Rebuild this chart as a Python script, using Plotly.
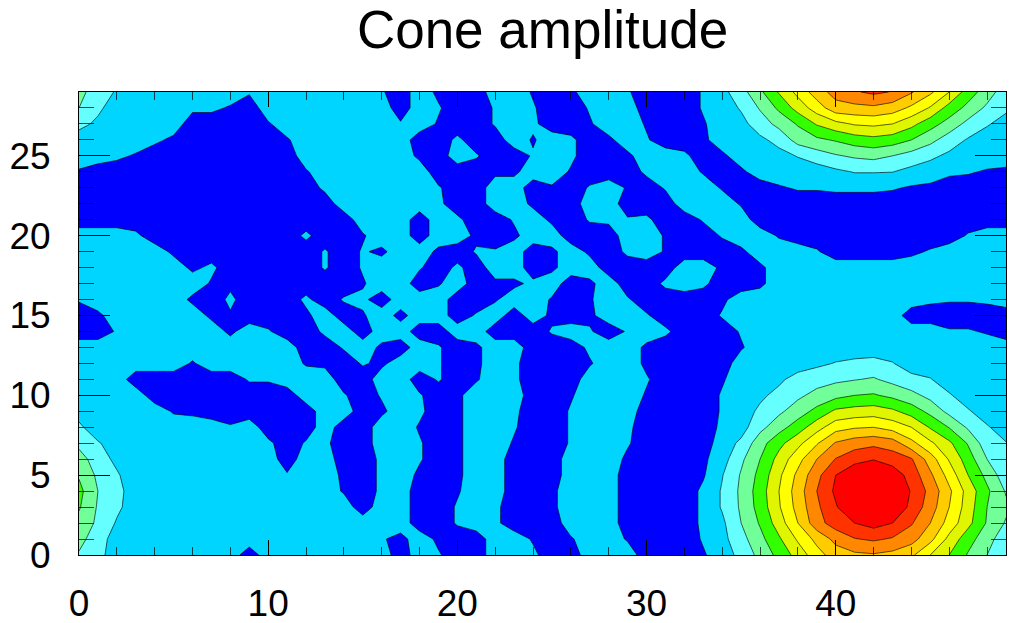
import plotly.graph_objects as go

TITLE = "Cone amplitude"
X_VALUES = list(range(50))
Y_VALUES = list(range(30))
LEVEL_COLORS = ["#0000ff", "#00d5ff", "#66ffff", "#70ff99", "#33ff00", "#e0f500",
                "#ffff00", "#ffcc00", "#ff8800", "#ff3300", "#ff0000"]

# Field, in tenths of a contour interval.
# Background rows, top (y=29) to bottom (y=0), ten columns per group.
SYMBOLS = {"#": -5, "~": -3, "=": -2, "-": -1, ",": 1, "+": 2, ".": 5}
BACKGROUND_ROWS = [
    ".........,  ......,#.= ##..-#=.., ###,...... ..........",
    "......++-# .......#., ##,.,##,.. ###,...... ..........",
    "......#### -......,.- ##,.+##-.. -##-...... ..........",
    "....+=#### #-......## +##.-.+#=. ,##=...... ..........",
    "..+-###### ##......=# .,##,.+##= ..+#=..... ..........",
    "-######### ##-......# ##==..-### +..-#=.... ......+,-=",
    "########## ###+....., ##..#-#,.- #,..-##-,, +++,-=####",
    "########## ####.....+ ##..=##..# ##...-#### ##########",
    "########## #####...#. +##,.=#,+, +##,..#### ##########",
    "...+###### ##+##-..#. .=#=..###. .-##,..-## #######,..",
    ".....=#### ###,#,=..= #,,.#=.=#+ .-###=..., ####=,....",
    "......=+## ###,#,..,# +#..#=..## ##..=#=... ..........",
    ".......-=# #####-..#- .#==+.#=.# #+.+##=... ..........",
    ",.....=#+# ##+#,+#... ##-..-#-., ####=..... .....+,,+.",
    "#=.....=-# ##=.#-.~.. #,.#.=#=.. ,###,..... ....######",
    "##,.....=. ,##+.#..## ..###,.,#, .+###,.... ......,,-#",
    ".......... ..##,.=#., #=..###+.. =####-.... ..........",
    "......-... ..-=#,=.., #=.+###-.. =####..... ..........",
    "...######, ,...##..#, #-.+###... ,###-..... ..........",
    "....###### ##..,#,.,# =...##-... -###,..... ..........",
    ".....-=### ###..#=.+# =..+##,... ####,..... ..........",
    "........,. ###.##..-# =..,##,..+ ####+..... ..........",
    ".......... +#,+##..,# =..-##,.., ####...... ..........",
    ".......... .#..##+.,# =..###...= ###=...... ..........",
    ".......... .,..=#+.=# =..###...# ###-...... ..........",
    ".......... ....-#+.## -..##=...# ###+...... ..........",
    ".......... .....#..## ,.+##=...# ###+...... ..........",
    ".......... ........## ,.+###...# ###+...... ..........",
    ".......... ......,~.= ##..-#-..- ###,...... ..........",
    ".........# .......#., ##..+##... ###-...... ..........",
]

# Upper-right peak, columns x=34..49; 0 keeps the background value.
TOP_PEAK = {
    29: [7, 16, 28, 41, 53, 65, 74, 79, 82, 79.5, 71, 62, 50, 35, 25, 14],
    28: [0, 11, 21, 32, 44, 55, 66, 67, 68, 65, 58, 49, 36, 27, 18, 12],
    27: [0, 7, 15, 23, 31, 41, 47, 51, 52, 50, 43, 34, 26, 17, 11, 6],
    26: [0, 0, 8, 13, 24, 28, 31, 35, 37, 35, 30, 23, 15, 9, 0, 0],
    25: [0, 0, 0, 7, 10.5, 15, 19, 21.5, 23, 20, 16, 12, 8, 0, 0, 0],
    24: [0, 0, 0, 0, 0, 0, 8, 10.5, 10.5, 10.2, 7, 0, 0, 0, 0, 0],
}
# Lower-right peak, columns x=34..49.
BOTTOM_PEAK = {
    12: [0, 0, 0, 0, 0, 8, 10.5, 12, 13, 10.5, 0, 0, 0, 0, 0, 0],
    11: [0, 0, 0, 8, 14, 16, 18, 19.5, 21, 17, 13, 10.5, 0, 0, 0, 0],
    10: [0, 0, 8, 13, 18, 23, 27, 30, 31, 27.5, 23, 17, 11, 0, 0, 0],
    9: [0, 0, 12, 18, 25, 33, 42, 44, 45, 42, 35.5, 27, 17, 11, 0, 0],
    8: [0, 6, 17, 26, 35, 46, 56, 59, 60, 56, 50, 39, 29.5, 18.5, 11, 0],
    7: [0, 12, 26, 37, 47, 59, 71, 75.5, 77.5, 75, 63, 52, 42, 29, 14, 10.5],
    6: [6, 18, 30, 43.5, 56.5, 70, 80.5, 86.5, 89.5, 85.5, 81, 65, 49, 35, 20, 13],
    5: [9.5, 21, 33, 48, 62.5, 77, 90, 98, 101, 96, 86, 72, 56, 40, 27, 14],
    4: [11, 22, 35, 50, 65, 80, 92, 102, 105, 102, 89, 77, 62, 46, 32, 19],
    3: [11, 21.5, 34, 49, 63.5, 78, 89, 100, 103, 100, 87, 75, 60, 45, 30, 22],
    2: [8, 20, 31, 45, 60, 76, 85, 90, 94, 90, 81, 70, 56, 43, 29, 19],
    1: [7, 16.5, 27, 38.5, 51.5, 63, 73, 79.5, 81.5, 79, 74, 63, 47, 34, 24, 13.5],
    0: [0, 13, 23, 33, 44, 56, 65, 68, 69, 67, 62, 50, 40, 29, 20, 11],
}
# Left edge, columns x=0..2.
LEFT_EDGE = {
    29: [23, 15, 9],
    28: [20, 12, 5],
    27: [13, 8, 5],
    9: [6, 5, 5],
    8: [12, 4, 5],
    7: [17, 11, 5],
    6: [25, 14, 8],
    5: [29, 18, 11],
    4: [33, 20, 13],
    3: [31, 19, 12],
    2: [27, 18, 9],
    1: [23, 15, 5],
    0: [19, 13, 5],
}

z = []
for row in reversed(BACKGROUND_ROWS):
    chars = row.replace(" ", "")
    if len(chars) == 49:
        chars = chars[:10] + "." + chars[10:]
    assert len(chars) == 50, row
    z.append([SYMBOLS[c] for c in chars])
for table, first_column in ((TOP_PEAK, 34), (BOTTOM_PEAK, 34), (LEFT_EDGE, 0)):
    for y, values in table.items():
        for k, v in enumerate(values):
            if v:
                z[y][first_column + k] = v

n = len(LEVEL_COLORS)
colorscale = []
for k, color in enumerate(LEVEL_COLORS):
    colorscale.append([k / n, color])
    colorscale.append([(k + 1) / n, color])

fig = go.Figure(go.Contour(
    x=X_VALUES, y=Y_VALUES, z=z,
    zmin=-10, zmax=100, colorscale=colorscale, showscale=False,
    autocontour=False,
    contours=dict(start=0, end=90, size=10, coloring="fill", showlines=True),
    line=dict(color="rgba(0,0,0,0.8)", width=0.8, smoothing=0),
    hoverinfo="skip",
))

TICK_FONT = dict(family="Liberation Sans", size=37, color="black")
fig.update_layout(
    width=1016, height=623, autosize=False,
    margin=dict(l=79, r=10, t=92, b=68, pad=0),
    paper_bgcolor="white", plot_bgcolor="white",
    title=dict(text=TITLE, x=542.5 / 1016, xanchor="center", y=0.952, yanchor="middle",
               font=dict(family="Liberation Sans", size=53, color="black")),
    xaxis=dict(range=[0, 49], tickmode="array", tickvals=[0, 10, 20, 30, 40], ticks="inside",
               ticklen=15, tickwidth=1, tickcolor="black", showline=True, linecolor="black",
               linewidth=1, mirror="allticks", showgrid=False, zeroline=False, tickfont=TICK_FONT,
               ticklabelstandoff=16, automargin=False,
               minor=dict(tickmode="array", tickvals=list(range(0, 50, 2)), ticks="inside", ticklen=8,
                          tickwidth=1, tickcolor="rgba(0,0,0,0.7)", showgrid=False)),
    yaxis=dict(range=[0, 29], tickmode="array", tickvals=[0, 5, 10, 15, 20, 25], ticks="inside",
               ticklen=31, tickwidth=1, tickcolor="black", showline=True, linecolor="black",
               linewidth=1, mirror="allticks", showgrid=False, zeroline=False, tickfont=TICK_FONT,
               ticklabelstandoff=20, automargin=False,
               minor=dict(tickmode="array", tickvals=list(range(0, 30)), ticks="inside", ticklen=15,
                          tickwidth=1, tickcolor="rgba(0,0,0,0.7)", showgrid=False)),
)

fig.write_html("out.html", config={"displayModeBar": False},
               post_script="document.body.style.margin='0';")
